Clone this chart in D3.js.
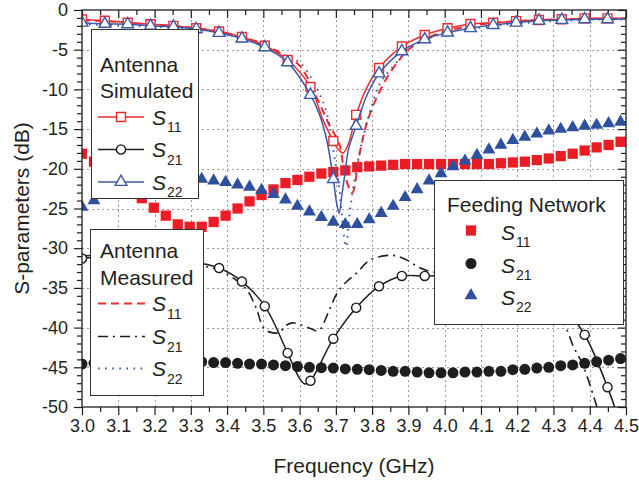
<!DOCTYPE html>
<html>
<head>
<meta charset="utf-8">
<script src="https://cdn.jsdelivr.net/npm/d3@7"></script>
<style>
  html, body { margin: 0; padding: 0; background: #fff; }
  svg { display: block; font-family: "Liberation Sans", Arial, sans-serif; }
</style>
</head>
<body>
<div id="chart"></div>
<script>
// ---------- DATA ----------
const xTicks = [3.0, 3.1, 3.2, 3.3, 3.4, 3.5, 3.6, 3.7, 3.8, 3.9, 4.0, 4.1, 4.2, 4.3, 4.4, 4.5];
const yTicks = [-50, -45, -40, -35, -30, -25, -20, -15, -10, -5, 0];

// Feeding network (measured points)
const fnFreq = [3.000, 3.033, 3.066, 3.099, 3.132, 3.165, 3.198, 3.231, 3.264, 3.297,
                3.330, 3.363, 3.396, 3.429, 3.462, 3.495, 3.528, 3.561, 3.594, 3.627,
                3.660, 3.693, 3.726, 3.759, 3.792, 3.825, 3.858, 3.891, 3.924, 3.957,
                3.990, 4.023, 4.056, 4.089, 4.122, 4.155, 4.188, 4.221, 4.254, 4.287,
                4.320, 4.353, 4.386, 4.419, 4.452, 4.485];
const fnS11 = [-18.1, -19.1, -20.2, -21.3, -22.5, -23.7, -24.9, -25.9, -27.0, -27.3,
               -27.3, -26.7, -25.9, -25.0, -24.1, -23.3, -22.6, -21.8, -21.4, -21.0,
               -20.6, -20.4, -20.2, -19.8, -19.7, -19.6, -19.5, -19.4, -19.4, -19.4,
               -19.4, -19.4, -19.4, -19.4, -19.4, -19.3, -19.2, -19.1, -18.9, -18.7,
               -18.4, -18.1, -17.7, -17.3, -17.0, -16.6];
const fnS21 = [-44.6, -44.5, -44.4, -44.3, -44.3, -44.2, -44.2, -44.2, -44.2, -44.3,
               -44.3, -44.4, -44.4, -44.5, -44.6, -44.6, -44.7, -44.8, -44.9, -45.0,
               -45.05, -45.1, -45.2, -45.25, -45.3, -45.4, -45.5, -45.5, -45.6, -45.7,
               -45.7, -45.7, -45.6, -45.6, -45.5, -45.5, -45.3, -45.25, -45.1, -45.0,
               -44.8, -44.7, -44.5, -44.3, -44.1, -43.9];
const fnS22 = [-24.8, -24.0, -23.3, -22.7, -22.2, -21.8, -21.5, -21.3, -21.2, -21.2,
               -21.3, -21.5, -21.7, -22.0, -22.3, -22.7, -23.2, -23.9, -24.7, -25.4,
               -26.1, -26.7, -27.0, -27.0, -26.4, -25.6, -24.7, -23.6, -22.6, -21.5,
               -20.6, -19.7, -19.0, -18.3, -17.6, -17.0, -16.4, -16.0, -15.6, -15.2,
               -15.0, -14.8, -14.6, -14.5, -14.3, -14.1];

// Antenna simulated: marker positions
const simMarkerFreq = [3.000, 3.063, 3.126, 3.189, 3.252, 3.315, 3.378, 3.441, 3.504, 3.567,
                       3.630, 3.693, 3.756, 3.819, 3.882, 3.945, 4.008, 4.071, 4.134, 4.197,
                       4.260, 4.323, 4.386, 4.449];

const simS11Freq = [3.000, 3.063, 3.126, 3.189, 3.252, 3.315, 3.378, 3.441, 3.504, 3.567,
                    3.630, 3.665, 3.693, 3.707, 3.720, 3.735, 3.756, 3.785, 3.819, 3.882,
                    3.945, 4.008, 4.071, 4.134, 4.197, 4.260, 4.323, 4.386, 4.449, 4.500];
const simS11 = [-1.2, -1.35, -1.6, -1.8, -2.0, -2.3, -2.7, -3.4, -4.5, -6.3,
                -9.7, -13.9, -16.5, -17.6, -18.0, -16.8, -13.2, -9.8, -7.3, -4.6,
                -3.15, -2.3, -1.76, -1.6, -1.4, -1.26, -1.17, -1.05, -1.05, -1.0];

const simS21Freq = [3.000, 3.063, 3.126, 3.189, 3.252, 3.315, 3.378, 3.441, 3.504, 3.567,
                    3.600, 3.615, 3.630, 3.693, 3.756, 3.819, 3.882, 3.945, 4.008, 4.071,
                    4.134, 4.197, 4.260, 4.323, 4.386, 4.449, 4.480, 4.500];
const simS21 = [-31.3, -31.0, -30.9, -31.0, -31.3, -31.8, -32.5, -34.2, -37.3, -43.2,
                -46.4, -47.1, -46.7, -41.4, -37.5, -34.8, -33.5, -33.5, -33.4, -33.3,
                -33.5, -34.0, -35.0, -37.2, -40.9, -47.5, -51.5, -54.0];

const simS22Freq = [3.000, 3.063, 3.126, 3.189, 3.252, 3.315, 3.378, 3.441, 3.504, 3.567,
                    3.630, 3.655, 3.675, 3.693, 3.702, 3.709, 3.716, 3.725, 3.735, 3.756,
                    3.785, 3.819, 3.882, 3.945, 4.008, 4.071, 4.134, 4.197, 4.260, 4.323,
                    4.386, 4.449, 4.500];
const simS22 = [-1.6, -1.75, -1.8, -2.0, -2.1, -2.4, -2.9, -3.6, -4.7, -6.6,
                -10.7, -13.2, -16.4, -21.3, -24.3, -25.6, -23.5, -20.6, -17.5, -14.6,
                -10.8, -8.0, -5.2, -3.7, -2.85, -2.3, -1.9, -1.6, -1.35, -1.26,
                -1.17, -1.17, -1.1];

// Antenna measured
const measS11Freq = [3.000, 3.063, 3.126, 3.189, 3.252, 3.315, 3.378, 3.441, 3.500, 3.550,
                     3.600, 3.650, 3.680, 3.710, 3.725, 3.745, 3.765, 3.785, 3.812, 3.840,
                     3.868, 3.900, 3.950, 4.000, 4.100, 4.200, 4.300, 4.400, 4.500];
const measS11 = [-1.3, -1.4, -1.6, -1.8, -2.0, -2.3, -2.7, -3.4, -4.3, -5.5,
                 -7.0, -11.3, -14.3, -17.0, -20.8, -23.0, -18.2, -14.3, -11.1, -8.6,
                 -6.7, -5.0, -3.6, -2.7, -1.8, -1.4, -1.2, -1.1, -1.1];

const measS21Freq = [3.000, 3.100, 3.200, 3.330, 3.380, 3.450, 3.480, 3.500, 3.520, 3.545,
                     3.560, 3.580, 3.600, 3.630, 3.652, 3.680, 3.703, 3.730, 3.758, 3.794,
                     3.857, 3.896, 3.924, 3.951, 4.000, 4.100, 4.200, 4.280, 4.330, 4.355,
                     4.380, 4.420, 4.440];
const measS21 = [-31.0, -30.8, -31.2, -32.2, -32.8, -35.0, -37.5, -40.0, -40.6, -40.6,
                 -39.8, -39.4, -39.6, -40.1, -40.4, -38.0, -35.7, -34.2, -33.1, -31.5,
                 -30.9, -31.5, -32.3, -32.8, -33.2, -33.5, -34.5, -36.8, -39.6, -42.4,
                 -44.6, -50.0, -53.0];

const measS22Freq = [3.000, 3.063, 3.126, 3.189, 3.252, 3.315, 3.378, 3.441, 3.500, 3.550,
                     3.600, 3.652, 3.675, 3.700, 3.710, 3.720, 3.728, 3.739, 3.753, 3.771,
                     3.794, 3.822, 3.849, 3.910, 3.950, 4.000, 4.100, 4.200, 4.300, 4.400,
                     4.500];
const measS22 = [-1.8, -1.9, -2.0, -2.1, -2.2, -2.45, -2.8, -3.5, -4.6, -5.6,
                 -6.6, -10.3, -13.0, -19.7, -22.7, -27.5, -29.8, -25.2, -21.0, -16.8,
                 -12.8, -9.2, -7.6, -4.6, -3.7, -2.9, -2.2, -1.7, -1.4, -1.2,
                 -1.2];

// ---------- STYLE ----------
const RED = "#ec1c24", RED_LINE = "#ee2a2e";
const BLUE = "#2f4f9f", BLUE_LINE = "#3b5aa8";
const BLACK = "#1e1e1e";
const TEXT = "#231f20";

const W = 639, H = 481;
const margin = {left: 82, top: 10, right: 13, bottom: 74};
const pw = W - margin.left - margin.right;
const ph = H - margin.top - margin.bottom;

const svg = d3.select("#chart").append("svg").attr("width", W).attr("height", H);

const x = d3.scaleLinear().domain([3.0, 4.5]).range([margin.left, margin.left + pw]);
const y = d3.scaleLinear().domain([-50, 0]).range([margin.top + ph, margin.top]);

svg.append("defs").append("clipPath").attr("id", "clip")
  .append("rect").attr("x", margin.left).attr("y", margin.top).attr("width", pw).attr("height", ph);

// Grid
const grid = svg.append("g").attr("stroke", "#9a9a9a").attr("stroke-width", 1).attr("stroke-dasharray", "2,3");
grid.selectAll(".gx").data(xTicks.slice(1, -1)).enter().append("line")
  .attr("x1", d => Math.round(x(d)) + 0.5).attr("x2", d => Math.round(x(d)) + 0.5)
  .attr("y1", margin.top).attr("y2", margin.top + ph);
grid.selectAll(".gy").data(yTicks.slice(1, -1)).enter().append("line")
  .attr("y1", d => Math.round(y(d)) + 0.5).attr("y2", d => Math.round(y(d)) + 0.5)
  .attr("x1", margin.left).attr("x2", margin.left + pw);

// Axes
const xMinor = d3.range(3.05, 4.5, 0.1);
const yMinor = d3.range(-49, 0, 1).filter(v => v % 5 !== 0);

function styleAxis(g) {
  g.select(".domain").remove();
  g.selectAll("line").attr("stroke", BLACK).attr("stroke-width", 1.2);
  g.selectAll("text").attr("fill", TEXT).attr("font-size", 18)
    .attr("font-family", '"Liberation Sans", Arial, sans-serif');
}
// bottom
svg.append("g").attr("transform", `translate(0,${margin.top + ph})`)
  .call(d3.axisBottom(x).tickValues(xTicks).tickSize(8).tickPadding(4).tickFormat(d3.format(".1f")))
  .call(styleAxis);
svg.append("g").attr("transform", `translate(0,${margin.top + ph})`)
  .call(d3.axisBottom(x).tickValues(xMinor).tickSize(5).tickFormat(""))
  .call(styleAxis);
// top (inward)
svg.append("g").attr("transform", `translate(0,${margin.top})`)
  .call(d3.axisBottom(x).tickValues(xTicks).tickSize(8).tickFormat(""))
  .call(styleAxis);
svg.append("g").attr("transform", `translate(0,${margin.top})`)
  .call(d3.axisBottom(x).tickValues(xMinor).tickSize(5).tickFormat(""))
  .call(styleAxis);
// left
svg.append("g").attr("transform", `translate(${margin.left},0)`)
  .call(d3.axisLeft(y).tickValues(yTicks).tickSize(8).tickPadding(6).tickFormat(d => String(d)))
  .call(styleAxis);
svg.append("g").attr("transform", `translate(${margin.left},0)`)
  .call(d3.axisLeft(y).tickValues(yMinor).tickSize(5).tickFormat(""))
  .call(styleAxis);
// right (inward)
svg.append("g").attr("transform", `translate(${margin.left + pw},0)`)
  .call(d3.axisLeft(y).tickValues(yTicks).tickSize(8).tickFormat(""))
  .call(styleAxis);
svg.append("g").attr("transform", `translate(${margin.left + pw},0)`)
  .call(d3.axisLeft(y).tickValues(yMinor).tickSize(5).tickFormat(""))
  .call(styleAxis);

// Axis titles
svg.append("text").attr("x", margin.left + pw / 2).attr("y", 473)
  .attr("text-anchor", "middle").attr("font-size", 21).attr("fill", TEXT)
  .text("Frequency (GHz)");
svg.append("text").attr("transform", `translate(29,${margin.top + ph / 2}) rotate(-90)`)
  .attr("text-anchor", "middle").attr("font-size", 21).attr("fill", TEXT)
  .text("S-parameters (dB)");

// ---------- PLOT ----------
const plot = svg.append("g").attr("clip-path", "url(#clip)");

// Feeding network markers
const zip = (fs, vs) => fs.map((f, i) => ({f, v: vs[i]}));
const fnSets = [
  {vals: fnS11, type: d3.symbolSquare, size: 105, color: RED},
  {vals: fnS21, type: d3.symbolCircle, size: 95, color: BLACK},
  {vals: fnS22, type: d3.symbolTriangle, size: 72, color: BLUE}
];
fnSets.forEach(s => {
  plot.append("g").selectAll("path").data(zip(fnFreq, s.vals)).enter().append("path")
    .attr("transform", d => `translate(${x(d.f)},${y(d.v)})`)
    .attr("d", d3.symbol().type(s.type).size(s.size))
    .attr("fill", s.color);
});

const line = d3.line().x(d => x(d.f)).y(d => y(d.v)).curve(d3.curveCatmullRom.alpha(0.5));

// Measured lines
const measSets = [
  {fs: measS11Freq, vs: measS11, color: RED_LINE, dash: "8,5", w: 2},
  {fs: measS21Freq, vs: measS21, color: BLACK, dash: "10,5,2,5", w: 1.6},
  {fs: measS22Freq, vs: measS22, color: BLUE_LINE, dash: "1.6,5.5", w: 2}
];
measSets.forEach(s => {
  plot.append("path").datum(zip(s.fs, s.vs)).attr("d", line)
    .attr("fill", "none").attr("stroke", s.color).attr("stroke-width", s.w)
    .attr("stroke-dasharray", s.dash);
});

// Simulated lines with open markers
const isMarker = f => simMarkerFreq.some(m => Math.abs(m - f) < 1e-6);
const simSets = [
  {fs: simS11Freq, vs: simS11, color: RED_LINE, type: d3.symbolSquare, size: 80},
  {fs: simS21Freq, vs: simS21, color: BLACK, type: d3.symbolCircle, size: 66},
  {fs: simS22Freq, vs: simS22, color: BLUE_LINE, type: d3.symbolTriangle, size: 60}
];
simSets.forEach(s => {
  const pts = zip(s.fs, s.vs);
  plot.append("path").datum(pts).attr("d", line)
    .attr("fill", "none").attr("stroke", s.color).attr("stroke-width", 1.5);
  plot.append("g").selectAll("path").data(pts.filter(d => isMarker(d.f))).enter().append("path")
    .attr("transform", d => `translate(${x(d.f)},${y(d.v)})`)
    .attr("d", d3.symbol().type(s.type).size(s.size))
    .attr("fill", "#fff").attr("stroke", s.color).attr("stroke-width", 1.4);
});

// Frame
svg.append("rect").attr("x", margin.left).attr("y", margin.top).attr("width", pw).attr("height", ph)
  .attr("fill", "none").attr("stroke", BLACK).attr("stroke-width", 1.3);

// ---------- LEGENDS ----------
function sLabel(g, lx, ly, sub) {
  const t = g.append("text").attr("x", lx).attr("y", ly).attr("fill", TEXT).attr("font-size", 21);
  t.append("tspan").attr("font-style", "italic").text("S");
  t.append("tspan").attr("font-size", 14).attr("dx", 1).attr("dy", 7.5).text(sub);
}
function box(bx, by, bw, bh) {
  const g = svg.append("g");
  g.append("rect").attr("x", bx + 0.5).attr("y", by + 0.5).attr("width", bw).attr("height", bh)
    .attr("fill", "#fff").attr("stroke", "#333").attr("stroke-width", 1);
  return g;
}
const subs = ["11", "21", "22"];

// Box 1: Antenna Simulated
{
  const g = box(91, 29, 107, 169);
  g.append("text").attr("x", 100).attr("y", 72).attr("font-size", 21).attr("fill", TEXT).text("Antenna");
  g.append("text").attr("x", 100).attr("y", 98).attr("font-size", 21).attr("fill", TEXT).text("Simulated");
  const rows = [117, 149.5, 182];
  simSets.forEach((s, i) => {
    g.append("line").attr("x1", 98).attr("x2", 144).attr("y1", rows[i]).attr("y2", rows[i])
      .attr("stroke", s.color).attr("stroke-width", 1.5);
    g.append("path").attr("transform", `translate(121,${rows[i]})`)
      .attr("d", d3.symbol().type(s.type).size(s.size))
      .attr("fill", "#fff").attr("stroke", s.color).attr("stroke-width", 1.4);
    sLabel(g, 152, rows[i] + 7.5, subs[i]);
  });
}
// Box 2: Antenna Measured
{
  const g = box(90, 229, 113, 166);
  g.append("text").attr("x", 100).attr("y", 258).attr("font-size", 21).attr("fill", TEXT).text("Antenna");
  g.append("text").attr("x", 100).attr("y", 285).attr("font-size", 21).attr("fill", TEXT).text("Measured");
  const rows = [303.5, 336.5, 368.5];
  measSets.forEach((s, i) => {
    g.append("line").attr("x1", 98).attr("x2", 145).attr("y1", rows[i]).attr("y2", rows[i])
      .attr("stroke", s.color).attr("stroke-width", s.w).attr("stroke-dasharray", s.dash);
    sLabel(g, 152, rows[i] + 7.5, subs[i]);
  });
}
// Box 3: Feeding Network
{
  const g = box(434, 180, 189, 144);
  g.append("text").attr("x", 447).attr("y", 212).attr("font-size", 21).attr("fill", TEXT).text("Feeding Network");
  const rows = [230.5, 263.5, 295.5];
  fnSets.forEach((s, i) => {
    g.append("path").attr("transform", `translate(471,${rows[i]})`)
      .attr("d", d3.symbol().type(s.type).size(s.size)).attr("fill", s.color);
    sLabel(g, 501, rows[i] + 9, subs[i]);
  });
}
</script>
</body>
</html>
